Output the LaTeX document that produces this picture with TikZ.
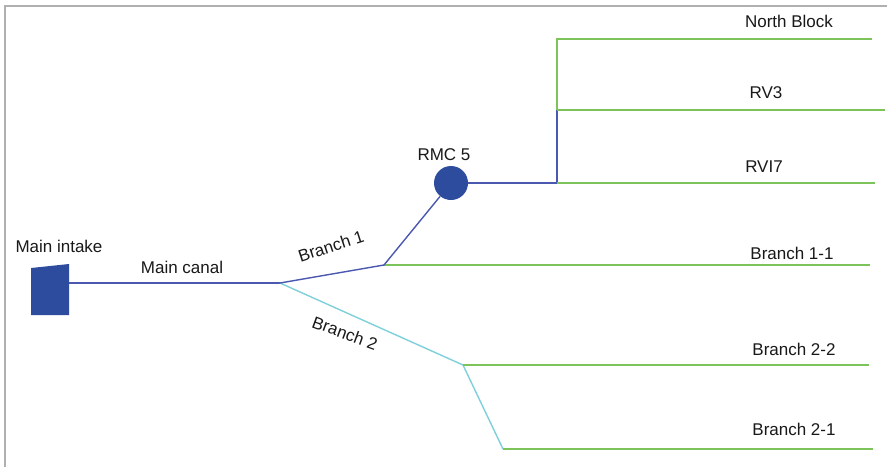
\documentclass[tikz,border=0pt]{standalone}
\usepackage{fontspec}
\setmainfont{Liberation Sans}
\definecolor{canalblue}{HTML}{4A58B0}
\definecolor{rmcblue}{HTML}{2E4C9E}
\definecolor{leafgreen}{HTML}{7CC35A}
\definecolor{branchcyan}{HTML}{7FD0DA}
\definecolor{framegray}{HTML}{B0B0B0}
\begin{document}
\begin{tikzpicture}[x=1pt,y=-1pt,
  lbl/.style={font=\fontsize{17}{19}\selectfont, text=black!90, inner sep=0pt},
  mainline/.style={draw=canalblue, line width=1.4pt},
  greenline/.style={draw=leafgreen, line width=1.4pt},
  cyanline/.style={draw=branchcyan, line width=1.4pt}]
\useasboundingbox (0,0) rectangle (887,467);
\fill[white] (0,0) rectangle (887,467);
% frame
\draw[framegray, line width=2pt] (5,467) -- (5,6) -- (887,6);
% intake
\fill[rmcblue] (31,268) -- (69,264) -- (69,315) -- (31,315) -- cycle;
\coordinate (intake) at (69,283);
\node[lbl] (tIntake) at (59,246) {Main intake};
% junctions
\coordinate (j1) at (280,283);
\coordinate (b1) at (384,265);
\coordinate (b2) at (463,365);
\coordinate (b21) at (503,449);
\coordinate (v) at (557,183);
\coordinate (vmid) at (557,110);
\coordinate (vtop) at (557,39);
\coordinate (eNB) at (872,39);
\coordinate (eRV3) at (885,110);
\coordinate (eRVI) at (875,183);
\coordinate (e11) at (870,265);
\coordinate (e22) at (869,365);
\coordinate (e21) at (873,449);
\node[circle, fill=rmcblue, minimum size=34pt, inner sep=0pt] (rmc) at (451,183) {};
\node[lbl] (tRMC) at (444,155) {RMC 5};
% lines
\draw[mainline] (intake) -- (j1);
\node[lbl] (tMain) at (182,267) {Main canal};
\draw[cyanline] (j1) -- (b2) -- (b21);
\draw[greenline] (b1) -- (e11);
\draw[greenline] (b2) -- (e22);
\draw[greenline] (b21) -- (e21);
\draw[mainline] (j1) -- (b1) -- (rmc);
\draw[mainline] (rmc) -- (v) -- (vmid);
\draw[greenline] (vmid) -- (vtop) -- (eNB);
\draw[greenline] (vmid) -- (eRV3);
\draw[greenline] (v) -- (eRVI);
% labels
\node[lbl, rotate=18] (tB1) at (331,246) {Branch 1};
\node[lbl, rotate=-20] (tB2) at (345,333) {Branch 2};
\node[lbl] (tNB) at (789,21) {North Block};
\node[lbl] (tRV3) at (766,93) {RV3};
\node[lbl] (tRVI) at (764,167) {RVI7};
\node[lbl] (t11) at (792,253) {Branch 1-1};
\node[lbl] (t22) at (794,349) {Branch 2-2};
\node[lbl] (t21) at (794,429) {Branch 2-1};
\end{tikzpicture}
\end{document}
